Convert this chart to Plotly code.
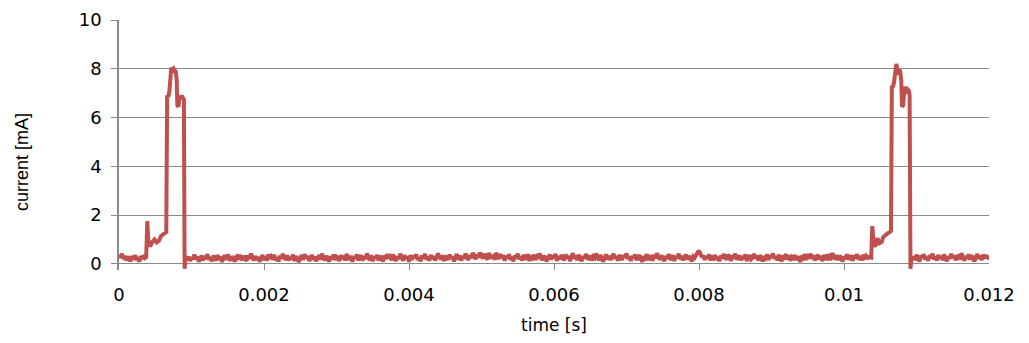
import plotly.graph_objects as go

# ---- data ----
baseline_dt = 2e-5

baseline_a_start = 0.0
baseline_a = [0.38, 0.26, 0.42, 0.20, 0.33, 0.14, 0.30, 0.22, 0.11, 0.32,
              0.18, 0.36, 0.15, 0.28, 0.09, 0.31, 0.21, 0.35, 0.25]

pulse1_time = [0.000375, 0.00039, 0.000405, 0.00043, 0.00046, 0.00049, 0.00052, 0.00055,
               0.00058, 0.00061, 0.00064, 0.000652, 0.000664, 0.00068, 0.000695, 0.00071,
               0.000722, 0.000738, 0.000752, 0.000768, 0.00078, 0.000795, 0.000805, 0.00082,
               0.000835, 0.00085, 0.000865, 0.00088, 0.000895, 0.000905, 0.00092, 0.000935]
pulse1_current = [0.28, 1.75, 0.95, 0.72, 0.90, 1.00, 0.88, 0.95,
                  1.15, 1.20, 1.25, 1.30, 6.90, 6.85, 7.10, 7.90,
                  8.05, 7.95, 8.00, 7.90, 7.95, 7.60, 6.50, 6.45,
                  6.90, 6.80, 6.90, 6.80, 6.75, -0.20, 0.32, 0.16]

baseline_b_start = 0.00096
baseline_b = [
    0.30, 0.12, 0.26, 0.18, 0.38, 0.20, 0.29, 0.09, 0.23, 0.34,
    0.15, 0.31, 0.21, 0.40, 0.17, 0.27, 0.11, 0.33, 0.24, 0.14,
    0.36, 0.18, 0.30, 0.08, 0.25, 0.35, 0.16, 0.39, 0.22, 0.13,
    0.31, 0.20, 0.10, 0.28, 0.37, 0.19, 0.27, 0.15, 0.33, 0.23,
    0.12, 0.34, 0.21, 0.42, 0.25, 0.14, 0.32, 0.17, 0.28, 0.09,
    0.24, 0.36, 0.16, 0.31, 0.13, 0.39, 0.22, 0.30, 0.18, 0.37,
    0.15, 0.27, 0.10, 0.33, 0.21, 0.41, 0.26, 0.17, 0.35, 0.14,
    0.28, 0.19, 0.38, 0.12, 0.31, 0.23, 0.08, 0.27, 0.36, 0.16,
    0.40, 0.24, 0.32, 0.13, 0.21, 0.37, 0.17, 0.30, 0.11, 0.26,
    0.35, 0.18, 0.42, 0.27, 0.15, 0.33, 0.22, 0.10, 0.31, 0.20,
    0.38, 0.16, 0.29, 0.24, 0.12, 0.36, 0.21, 0.33, 0.14, 0.41,
    0.26, 0.17, 0.34, 0.09, 0.30, 0.22, 0.39, 0.15, 0.27, 0.35,
    0.13, 0.31, 0.20, 0.43, 0.24, 0.16, 0.36, 0.11, 0.29, 0.21,
    0.37, 0.14, 0.32, 0.25, 0.10, 0.34, 0.19, 0.40, 0.23, 0.30,
    0.15, 0.38, 0.27, 0.12, 0.31, 0.20, 0.42, 0.24, 0.13, 0.35,
    0.21, 0.29, 0.09, 0.36, 0.17, 0.33, 0.25, 0.39, 0.16, 0.28,
    0.11, 0.34, 0.23, 0.41, 0.18, 0.30, 0.13, 0.37, 0.21, 0.32,
    0.15, 0.26, 0.43, 0.28, 0.19, 0.35, 0.12, 0.33, 0.24, 0.17,
    0.38, 0.22, 0.30, 0.10, 0.27, 0.40, 0.18, 0.34, 0.14, 0.31,
    0.21, 0.42, 0.26, 0.16, 0.36, 0.24, 0.45, 0.30, 0.19, 0.39,
    0.27, 0.46, 0.33, 0.22, 0.41, 0.28, 0.18, 0.44, 0.31, 0.23,
    0.37, 0.17, 0.45, 0.29, 0.20, 0.40, 0.25, 0.35, 0.13, 0.32,
    0.23, 0.39, 0.17, 0.28, 0.11, 0.35, 0.24, 0.42, 0.19, 0.31,
    0.14, 0.36, 0.27, 0.18, 0.40, 0.12, 0.32, 0.25, 0.37, 0.16,
    0.29, 0.21, 0.43, 0.31, 0.15, 0.34, 0.23, 0.10, 0.27, 0.38,
    0.18, 0.35, 0.24, 0.41, 0.13, 0.30, 0.20, 0.36, 0.26, 0.15,
    0.39, 0.23, 0.32, 0.12, 0.28, 0.44, 0.21, 0.34, 0.16, 0.37,
    0.26, 0.11, 0.31, 0.22, 0.40, 0.27, 0.17, 0.35, 0.14, 0.30,
    0.24, 0.42, 0.32, 0.15, 0.36, 0.25, 0.09, 0.28, 0.38, 0.18,
    0.33, 0.16, 0.27, 0.41, 0.21, 0.31, 0.13, 0.37, 0.25, 0.17,
    0.35, 0.26, 0.43, 0.20, 0.30, 0.12, 0.32, 0.23, 0.39, 0.15,
    0.28, 0.36, 0.18, 0.10, 0.31, 0.24, 0.40, 0.16, 0.34, 0.27,
    0.13, 0.37, 0.23, 0.44, 0.30, 0.17, 0.35, 0.26, 0.11, 0.32,
    0.21, 0.39, 0.28, 0.16, 0.36, 0.12, 0.31, 0.24, 0.42, 0.19,
    0.33, 0.15, 0.27, 0.38, 0.18, 0.32, 0.23, 0.10, 0.30, 0.25,
    0.37, 0.45, 0.54, 0.41, 0.27, 0.35, 0.17, 0.31, 0.22, 0.39,
    0.14, 0.32, 0.24, 0.36, 0.16, 0.29, 0.11, 0.34, 0.21, 0.40,
    0.26, 0.17, 0.37, 0.30, 0.13, 0.35, 0.23, 0.42, 0.18, 0.28,
    0.34, 0.15, 0.31, 0.21, 0.39, 0.12, 0.29, 0.36, 0.20, 0.26,
    0.41, 0.23, 0.33, 0.14, 0.35, 0.27, 0.10, 0.31, 0.24, 0.38,
    0.17, 0.34, 0.26, 0.43, 0.21, 0.30, 0.15, 0.37, 0.23, 0.11,
    0.33, 0.27, 0.40, 0.18, 0.35, 0.13, 0.29, 0.24, 0.36, 0.16,
    0.31, 0.21, 0.09, 0.34, 0.26, 0.39, 0.17, 0.30, 0.23, 0.42,
    0.20, 0.35, 0.14, 0.29, 0.37, 0.18, 0.33, 0.12, 0.28, 0.24,
    0.38, 0.16, 0.31, 0.25, 0.44, 0.29, 0.19, 0.36, 0.15, 0.33,
    0.26, 0.10, 0.30, 0.21, 0.39, 0.17, 0.34, 0.27, 0.13, 0.35,
    0.23, 0.40, 0.18, 0.32, 0.14, 0.36, 0.26, 0.33, 0.20, 0.29,
]

pulse2_time = [0.010375, 0.01039, 0.010405, 0.01043, 0.01046, 0.01049, 0.01052, 0.01054,
               0.01057, 0.0106, 0.01063, 0.010648, 0.01066, 0.010675, 0.01069, 0.010705,
               0.010722, 0.010735, 0.010748, 0.01076, 0.010775, 0.01079, 0.0108, 0.010815,
               0.010825, 0.010838, 0.010852, 0.010865, 0.01088, 0.010895, 0.010905, 0.010917,
               0.01093, 0.010945]
pulse2_current = [0.26, 1.55, 0.95, 0.70, 1.05, 0.85, 0.90, 1.10,
                  1.20, 1.25, 1.30, 1.35, 7.30, 7.25, 7.45, 7.70,
                  8.20, 8.00, 7.75, 7.95, 7.90, 7.50, 6.45, 6.50,
                  6.90, 7.25, 7.20, 7.10, 7.15, 7.10, 6.90, -0.20,
                  0.28, 0.18]

baseline_c_start = 0.01096
baseline_c = [0.31, 0.16, 0.37, 0.23, 0.10, 0.34, 0.25, 0.40, 0.18, 0.29,
              0.13, 0.35, 0.24, 0.42, 0.19, 0.30, 0.14, 0.36, 0.22, 0.33,
              0.16, 0.38, 0.27, 0.11, 0.31, 0.21, 0.41, 0.25, 0.34, 0.15,
              0.29, 0.37, 0.18, 0.44, 0.27, 0.13, 0.32, 0.22, 0.39, 0.17,
              0.35, 0.24, 0.10, 0.30, 0.40, 0.21, 0.34, 0.16, 0.37, 0.28,
              0.31, 0.26, 0.34]

x_tick_values = [0, 0.002, 0.004, 0.006, 0.008, 0.010, 0.012]
x_tick_labels = ["0", "0.002", "0.004", "0.006", "0.008", "0.01", "0.012"]
y_tick_values = [0, 2, 4, 6, 8, 10]
y_tick_labels = ["0", "2", "4", "6", "8", "10"]
x_title = "time [s]"
y_title = "current [mA]"


def sampled(start, values):
    return [start + k * baseline_dt for k in range(len(values))]


time_s = (sampled(baseline_a_start, baseline_a) + pulse1_time +
          sampled(baseline_b_start, baseline_b) + pulse2_time +
          sampled(baseline_c_start, baseline_c))
current_mA = baseline_a + pulse1_current + baseline_b + pulse2_current + baseline_c

TICK_FONT = "DejaVu Sans, Verdana, sans-serif"
TITLE_FONT = "Liberation Sans, Arial, sans-serif"
GRID = "#8a8a8a"

fig = go.Figure()
fig.add_trace(go.Scatter(
    x=time_s, y=current_mA, mode="lines",
    line=dict(color="#C0504D", width=4, shape="linear"),
    showlegend=False, hoverinfo="skip",
))

fig.update_layout(
    width=1029, height=343,
    margin=dict(l=119, r=40, t=20, b=73),
    paper_bgcolor="white", plot_bgcolor="white",
    font=dict(family=TICK_FONT, size=17, color="#000000"),
    xaxis=dict(
        range=[0, 0.012], tickvals=x_tick_values, ticktext=x_tick_labels,
        ticks="inside", ticklen=6, tickcolor=GRID, tickwidth=1.3,
        showgrid=False, zeroline=False, showline=False,
        ticklabelstandoff=12,
        tickfont=dict(family=TICK_FONT, size=18),
        title=dict(text=x_title, font=dict(family=TICK_FONT, size=17), standoff=15),
        automargin=False,
    ),
    yaxis=dict(
        range=[-0.25, 10], tickvals=y_tick_values, ticktext=y_tick_labels,
        ticks="outside", ticklen=6, tickcolor=GRID, tickwidth=1.3,
        showgrid=True, gridcolor=GRID, gridwidth=1.3,
        zeroline=False, showline=True, linecolor=GRID, linewidth=1.5,
        ticklabelstandoff=6,
        tickfont=dict(family=TICK_FONT, size=18),
        automargin=False,
    ),
    annotations=[dict(
        text=y_title, textangle=-90, showarrow=False,
        xref="paper", yref="paper", x=(22 - 119) / 870, y=(270.1 - 162) / 250.1,
        xanchor="center", yanchor="middle",
        font=dict(family=TITLE_FONT, size=18, color="#000000"),
    )],
)

fig.write_html("out.html")
